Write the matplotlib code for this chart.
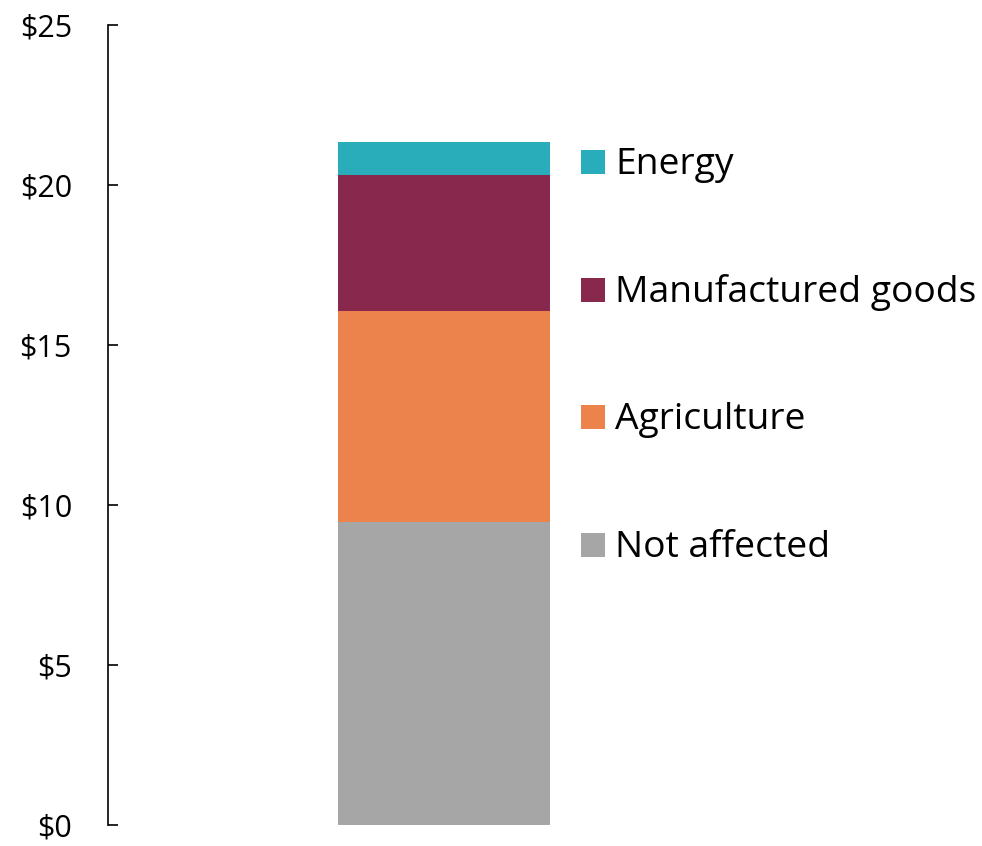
import matplotlib.pyplot as plt

# Data
categories = ["Not affected", "Agriculture", "Manufactured goods", "Energy"]
values = [9.47, 6.59, 4.25, 1.03]
colors = ["#a6a6a6", "#ec834d", "#89284d", "#2aadba"]
label_y = [8.76, 12.74, 16.72, 20.72]
ticks = [0, 5, 10, 15, 20, 25]

plt.rcParams["font.family"] = ["Open Sans", "DejaVu Sans"]

fig = plt.figure(figsize=(9.82, 8.46), dpi=100)
ax = fig.add_axes([108 / 982, 21 / 846, 672 / 982, 800 / 846])

bottom = 0
for cat, val, col in zip(categories, values, colors):
    ax.bar(0.5, val, width=0.3155, bottom=bottom, color=col, linewidth=0)
    bottom += val

# legend-like labels to the right of the bar
for cat, col, y in zip(categories, colors, label_y):
    ax.scatter([0.7217], [y], marker="s", s=300, color=col, linewidths=0, clip_on=False)
    ax.text(0.7545, y - 0.38, cat, fontsize=26.8, va="baseline", ha="left", clip_on=False)

ax.set_xlim(0, 1)
ax.set_ylim(0, 25)
ax.set_yticks(ticks)
ax.set_yticklabels([f"${t}" for t in ticks], fontsize=22)
ax.tick_params(axis="y", direction="in", length=7.5, width=1.2, pad=26)
ax.set_xticks([])
for s in ["top", "right", "bottom"]:
    ax.spines[s].set_visible(False)
ax.spines["left"].set_linewidth(1.2)

fig.savefig("out.png", dpi=100)
